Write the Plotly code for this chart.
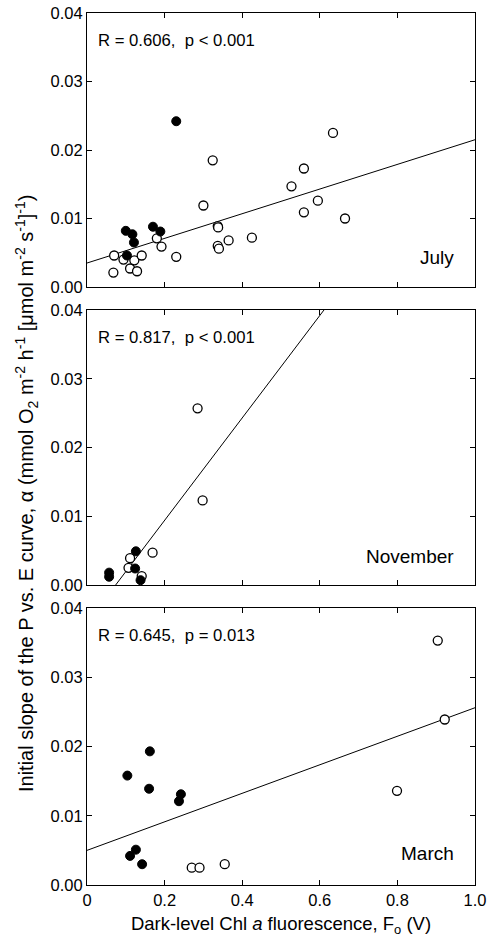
import plotly.graph_objects as go
from plotly.subplots import make_subplots

# ---------------- data ----------------
panel_names = ["July", "November", "March"]
stats_text = ["R = 0.606,  p < 0.001", "R = 0.817,  p < 0.001", "R = 0.645,  p = 0.013"]

july_open_x = [0.068, 0.070, 0.094, 0.111, 0.122, 0.129, 0.141, 0.180, 0.192, 0.230, 0.300, 0.324,
               0.337, 0.338, 0.337, 0.340, 0.365, 0.425, 0.527, 0.559, 0.559, 0.595, 0.634, 0.665]
july_open_y = [0.0021, 0.0046, 0.0040, 0.0027, 0.0039, 0.0023, 0.0046, 0.0071, 0.0059, 0.0044, 0.0119, 0.0185,
               0.0089, 0.0087, 0.0060, 0.0056, 0.0068, 0.0072, 0.0147, 0.0173, 0.0109, 0.0126, 0.0225, 0.0100]
july_filled_x = [0.230, 0.100, 0.117, 0.121, 0.103, 0.170, 0.189]
july_filled_y = [0.0242, 0.0082, 0.0077, 0.0065, 0.0046, 0.0088, 0.0081]

nov_open_x = [0.285, 0.298, 0.169, 0.111, 0.107, 0.141]
nov_open_y = [0.0257, 0.0123, 0.0047, 0.0039, 0.0025, 0.0013]
nov_filled_x = [0.057, 0.057, 0.126, 0.124, 0.138]
nov_filled_y = [0.0018, 0.0012, 0.0049, 0.0024, 0.0007]

mar_open_x = [0.904, 0.922, 0.799, 0.270, 0.290, 0.355]
mar_open_y = [0.0353, 0.0239, 0.0136, 0.0025, 0.0025, 0.0030]
mar_filled_x = [0.104, 0.162, 0.160, 0.242, 0.237, 0.126, 0.111, 0.142]
mar_filled_y = [0.0158, 0.0193, 0.0139, 0.0131, 0.0121, 0.0051, 0.0042, 0.0030]

fit_intercepts = [0.0035, -0.0055, 0.0050]
fit_slopes = [0.0180, 0.0745, 0.0206]
fit_x_range = [0.0, 1.0]

x_tick_vals = [0, 0.2, 0.4, 0.6, 0.8, 1.0]
x_tick_text = ["0", "0.2", "0.4", "0.6", "0.8", "1.0"]
y_tick_vals = [0, 0.01, 0.02, 0.03, 0.04]

open_sets = [(july_open_x, july_open_y), (nov_open_x, nov_open_y), (mar_open_x, mar_open_y)]
filled_sets = [(july_filled_x, july_filled_y), (nov_filled_x, nov_filled_y), (mar_filled_x, mar_filled_y)]

# ---------------- figure ----------------
FONT = "Arial, Liberation Sans, Helvetica, sans-serif"
W, H = 490, 937
ml, mr, mt, mb = 87, 15, 13, 52
ph = H - mt - mb

def dom(top_px, bot_px):
    return [1 - (bot_px - mt) / ph, 1 - (top_px - mt) / ph]

domains = [dom(13, 287), dom(310, 585), dom(608, 885)]

fig = make_subplots(rows=3, cols=1)

for i in range(3):
    r = i + 1
    a, b = fit_intercepts[i], fit_slopes[i]
    fig.add_trace(go.Scatter(x=fit_x_range, y=[a + b * xv for xv in fit_x_range], mode="lines",
                             line=dict(color="black", width=1), showlegend=False, hoverinfo="skip"),
                  row=r, col=1)
    ox, oy = open_sets[i]
    fig.add_trace(go.Scatter(x=ox, y=oy, mode="markers",
                             marker=dict(symbol="circle", size=9, color="white",
                                         line=dict(color="black", width=1.3)),
                             showlegend=False), row=r, col=1)
    fx, fy = filled_sets[i]
    fig.add_trace(go.Scatter(x=fx, y=fy, mode="markers",
                             marker=dict(symbol="circle", size=9, color="black",
                                         line=dict(color="black", width=1)),
                             showlegend=False), row=r, col=1)

for i in range(3):
    xa = "xaxis" if i == 0 else f"xaxis{i+1}"
    ya = "yaxis" if i == 0 else f"yaxis{i+1}"
    fig.layout[xa].update(domain=[0, 1], range=[0, 1.0], tickvals=x_tick_vals, ticktext=x_tick_text,
                          showticklabels=(i == 2), ticks="inside", ticklen=5, tickcolor="black",
                          showline=True, linecolor="black", linewidth=1, mirror="ticks",
                          showgrid=False, zeroline=False, automargin=False,
                          tickfont=dict(family=FONT, size=16.5, color="black"))
    fig.layout[ya].update(domain=domains[i], range=[0, 0.04], tickvals=y_tick_vals, tickformat=".2f",
                          ticks="inside", ticklen=5, tickcolor="black",
                          showline=True, linecolor="black", linewidth=1, mirror="ticks",
                          showgrid=False, zeroline=False, automargin=False,
                          tickfont=dict(family=FONT, size=16.5, color="black"))
    xref = "x domain" if i == 0 else f"x{i+1} domain"
    yref = "y domain" if i == 0 else f"y{i+1} domain"
    fig.add_annotation(text=stats_text[i], xref=xref, yref=yref, x=0.022, y=0.9,
                       xanchor="left", yanchor="middle", showarrow=False,
                       font=dict(family=FONT, size=16.7, color="black"))
    fig.add_annotation(text=panel_names[i], xref=xref, yref=yref, x=0.952, y=[0.106, 0.104, 0.115][i],
                       xanchor="right", yanchor="middle", showarrow=False,
                       font=dict(family=FONT, size=19, color="black"))

fig.layout["xaxis3"].title = dict(text="Dark-level Chl <i>a</i> fluorescence, F<sub>o</sub> (V)",
                                  font=dict(family=FONT, size=18.5, color="black"), standoff=10)

ytitle = ("Initial slope of the P vs. E curve, α (mmol O<sub>2</sub> m<sup>-2</sup> h<sup>-1</sup> "
          "[μmol m<sup>-2</sup> s<sup>-1</sup>]<sup>-1</sup>)")
fig.add_annotation(text=ytitle, xref="paper", yref="paper", x=(26 - ml) / (W - ml - mr),
                   y=1 - (494 - mt) / ph, xanchor="center", yanchor="middle", textangle=-90,
                   showarrow=False, font=dict(family=FONT, size=20, color="black"))

fig.update_layout(width=W, height=H, margin=dict(l=ml, r=mr, t=mt, b=mb, autoexpand=False),
                  paper_bgcolor="white", plot_bgcolor="white", showlegend=False,
                  font=dict(family=FONT, color="black"))

fig.write_html("out.html")
